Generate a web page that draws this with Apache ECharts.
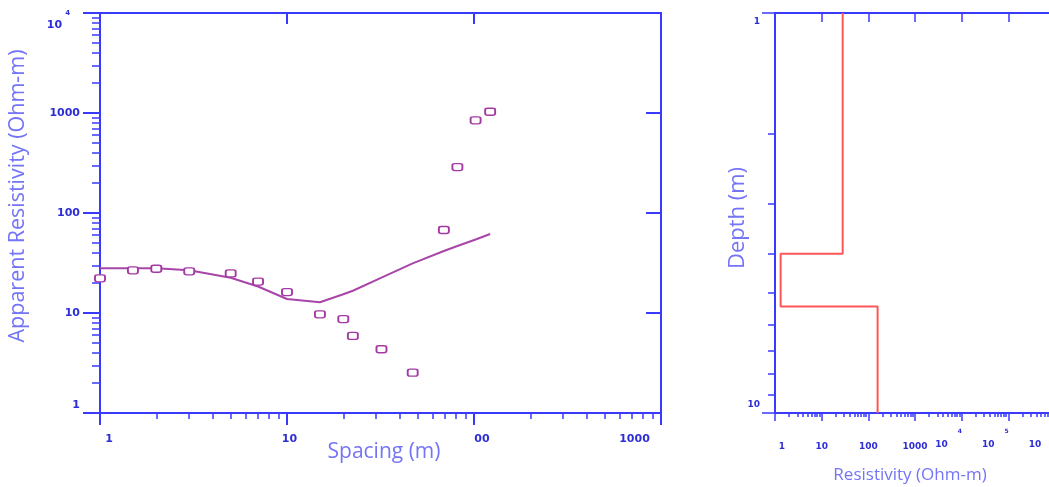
<!DOCTYPE html>
<html>
<head>
<meta charset="utf-8">
<script src="https://cdn.jsdelivr.net/npm/echarts@6/dist/echarts.min.js"></script>
<style>html,body{margin:0;padding:0;background:#fff;}#c{width:1049px;height:487px;}</style>
</head>
<body>
<div id="c"></div>
<script>
// ---- data ----
const spacing      = [1, 1.5, 2, 3, 5, 7, 10, 15, 20, 22.5, 32, 47, 69, 81.5, 102, 122];
const apparentRes  = [22.2, 26.7, 27.7, 26.1, 24.9, 20.6, 16.2, 9.7, 8.7, 5.9, 4.34, 2.53, 67.6, 288, 845, 1030];
const modelRes     = [28.1, 28.1, 28.0, 26.8, 22.5, 18.4, 13.8, 12.8, 15.4, 16.7, 22.6, 31.3, 41.7, 46.8, 54.3, 61.7];
const layerRes     = [28.2, 1.32, 158];
const layerBottom  = [4.0, 5.42];
const depthRange   = [1, 10];
const xTicksL  = [1, 10, 100, 1000];
const xLabelsL = ['1', '10', '00', '1000'];
const yTicksL  = [1, 10, 100, 1000, 10000];
const yLabelsL = ['1', '10', '100', '1000', '10|4'];
const xTicksR  = [1, 10, 100, 1000, 10000, 100000, 1000000];
const xLabelsR = ['1', '10', '100', '1000', '10|4', '10|5', '10|6'];
const yTicksR  = [1, 10];
const yLabelsR = ['1', '10'];

// ---- helpers ----
const lg = Math.log10;
const AX = '#3a3aff', LBL = '#2e2ed6', TTL = '#7474f6';
function minors(a, b) { const o = []; for (let d = a; d < b; d *= 10) for (let k = 2; k <= 9; k++) o.push(lg(k * d)); return o; }
function idxOf(ticks, v) { for (let i = 0; i < ticks.length; i++) if (Math.abs(lg(ticks[i]) - v) < 1e-6) return i; return -1; }
function st(size, pad, extra) { return Object.assign({ fontFamily: 'DejaVu Sans', fontWeight: 'bold', fontSize: size, color: LBL, padding: pad }, extra || {}); }

const scatterData = spacing.map((x, i) => [lg(x), lg(apparentRes[i])]);
const modelData = spacing.map((x, i) => [lg(x), lg(modelRes[i])]);
const stepData = [[lg(layerRes[0]), lg(depthRange[0])]];
layerBottom.forEach((d, i) => { stepData.push([lg(layerRes[i]), lg(d)]); stepData.push([lg(layerRes[i + 1]), lg(d)]); });
stepData.push([lg(layerRes[layerRes.length - 1]), lg(depthRange[1])]);

const line = { show: true, onZero: false, lineStyle: { color: AX, width: 2 } };
const noLine = { show: false, onZero: false };
const noSplit = { show: false };

const chart = echarts.init(document.getElementById('c'), null, { renderer: 'canvas' });
chart.setOption({
  animation: false,
  backgroundColor: '#fff',
  grid: [
    { left: 100, top: 13, width: 561, height: 400, outerBoundsMode: 'none', containLabel: false },
    { left: 775, top: 13, width: 280, height: 400, outerBoundsMode: 'none', containLabel: false }
  ],
  xAxis: [
    { // 0 left bottom main
      type: 'value', gridIndex: 0, position: 'bottom', min: 0, max: 3,
      axisLine: line, splitLine: noSplit,
      axisTick: { show: true, length: 12, lineStyle: { color: AX, width: 2 }, customValues: xTicksL.map(lg) },
      axisLabel: {
        margin: 21, customValues: xTicksL.map(lg),
        formatter: v => { const i = idxOf(xTicksL, v); return '{s' + i + '|' + xLabelsL[i] + '}'; },
        rich: { s0: st(11, [0, 0, 0, 18]), s1: st(11, [0, 0, 0, 5]), s2: st(11, [0, 0, 0, 16]), s3: st(11, [0, 53, 0, 0]) }
      }
    },
    { // 1 left bottom minor
      type: 'value', gridIndex: 0, position: 'bottom', min: 0, max: 3,
      axisLine: noLine, splitLine: noSplit, axisLabel: { show: false },
      axisTick: { show: true, length: 6, lineStyle: { color: AX, width: 1.5 }, customValues: minors(1, 1000) }
    },
    { // 2 left top
      type: 'value', gridIndex: 0, position: 'top', min: 0, max: 3,
      axisLine: line, splitLine: noSplit, axisLabel: { show: false },
      axisTick: { show: true, inside: true, length: 11, lineStyle: { color: AX, width: 2 }, customValues: [lg(10), lg(100)] }
    },
    { // 3 right bottom main
      type: 'value', gridIndex: 1, position: 'bottom', min: 0, max: 6,
      axisLine: line, splitLine: noSplit,
      axisTick: { show: true, length: 8, lineStyle: { color: AX, width: 1.5 }, customValues: xTicksR.map(lg) },
      axisLabel: {
        margin: 15, customValues: xTicksR.map(lg),
        formatter: v => {
          const i = idxOf(xTicksR, v); const t = xLabelsR[i];
          if (t.indexOf('|') >= 0) { const p = t.split('|'); return '{p|' + p[0] + '}{sup|' + p[1] + '}'; }
          return (i === 0 ? '{f|' : '{n|') + t + '}';
        },
        rich: {
          n: st(9, [14, 0, 0, 0], { verticalAlign: 'top' }),
          f: st(9, [14, 0, 0, 14], { verticalAlign: 'top' }),
          p: st(9, [12, 0, 0, 0], { verticalAlign: 'top' }),
          sup: st(6, [0, 26, 0, 10], { verticalAlign: 'top' })
        }
      }
    },
    { // 4 right bottom minor
      type: 'value', gridIndex: 1, position: 'bottom', min: 0, max: 6,
      axisLine: noLine, splitLine: noSplit, axisLabel: { show: false },
      axisTick: { show: true, length: 4, lineStyle: { color: AX, width: 1.5 }, customValues: minors(1, 1000000) }
    },
    { // 5 right top
      type: 'value', gridIndex: 1, position: 'top', min: 0, max: 6,
      axisLine: line, splitLine: noSplit, axisLabel: { show: false },
      axisTick: { show: true, inside: true, length: 9, lineStyle: { color: AX, width: 1.5 }, customValues: [1, 2, 3, 4, 5, 6] }
    }
  ],
  yAxis: [
    { // 0 left main
      type: 'value', gridIndex: 0, position: 'left', min: 0, max: 4,
      axisLine: line, splitLine: noSplit,
      axisTick: { show: true, length: 17, lineStyle: { color: AX, width: 2 }, customValues: yTicksL.map(lg) },
      axisLabel: {
        margin: 20, customValues: yTicksL.map(lg),
        formatter: v => {
          const i = idxOf(yTicksL, v); const t = yLabelsL[i];
          if (t.indexOf('|') >= 0) { const p = t.split('|'); return '{p|' + p[0] + '}{sup|' + p[1] + '}'; }
          return (i === 0 ? '{lo|' : '{n|') + t + '}';
        },
        rich: {
          n: st(11, [0, 0, 0, 0]),
          lo: st(11, [0, 0, 16, 0]),
          p: st(11, [24, 0, 0, 0]),
          sup: st(7, [0, 10, 0, 3], { verticalAlign: 'middle' })
        }
      }
    },
    { // 1 left minor
      type: 'value', gridIndex: 0, position: 'left', min: 0, max: 4,
      axisLine: noLine, splitLine: noSplit, axisLabel: { show: false },
      axisTick: { show: true, length: 8, lineStyle: { color: AX, width: 1.5 }, customValues: minors(1, 10000) }
    },
    { // 2 left right side
      type: 'value', gridIndex: 0, position: 'right', min: 0, max: 4,
      axisLine: line, splitLine: noSplit, axisLabel: { show: false },
      axisTick: { show: true, inside: true, length: 15, lineStyle: { color: AX, width: 2 }, customValues: [1, 2, 3] }
    },
    { // 3 right depth main
      type: 'value', gridIndex: 1, position: 'left', min: 0, max: 1, inverse: true,
      axisLine: line, splitLine: noSplit,
      axisTick: { show: true, length: 13, lineStyle: { color: AX, width: 1.5 }, customValues: yTicksR.map(lg) },
      axisLabel: {
        margin: 15, customValues: yTicksR.map(lg),
        formatter: v => { const i = idxOf(yTicksR, v); return (i === 0 ? '{t|' : '{b|') + yLabelsR[i] + '}'; },
        rich: { t: st(9, [18, 0, 0, 0]), b: st(9, [0, 0, 16, 0]) }
      }
    },
    { // 4 right depth minor
      type: 'value', gridIndex: 1, position: 'left', min: 0, max: 1, inverse: true,
      axisLine: noLine, splitLine: noSplit, axisLabel: { show: false },
      axisTick: { show: true, length: 7, lineStyle: { color: AX, width: 1.5 }, customValues: minors(1, 10) }
    }
  ],
  series: [
    {
      type: 'line', xAxisIndex: 0, yAxisIndex: 0, data: modelData, showSymbol: false, symbol: 'none',
      lineStyle: { color: '#a845a8', width: 2 }, z: 2, silent: true
    },
    {
      type: 'scatter', xAxisIndex: 0, yAxisIndex: 0, data: scatterData, symbol: 'roundRect', symbolSize: [10, 7],
      itemStyle: { color: '#ffffff', borderColor: '#a33aa3', borderWidth: 1.6, opacity: 1 }, z: 3, silent: true
    },
    {
      type: 'line', xAxisIndex: 3, yAxisIndex: 3, data: stepData, showSymbol: false, symbol: 'none',
      lineStyle: { color: '#ff5757', width: 2 }, z: 2, silent: true
    }
  ],
  graphic: [
    { type: 'text', x: 18, y: 196, rotation: Math.PI / 2, silent: true,
      style: { text: 'Apparent Resistivity (Ohm-m)', fill: TTL, font: '21.5px "Open Sans"', textAlign: 'center', textVerticalAlign: 'middle' } },
    { type: 'text', x: 384, y: 452, silent: true,
      style: { text: 'Spacing (m)', fill: TTL, font: '21px "Open Sans"', textAlign: 'center', textVerticalAlign: 'middle' } },
    { type: 'text', x: 738, y: 218, rotation: Math.PI / 2, silent: true,
      style: { text: 'Depth (m)', fill: TTL, font: '22px "Open Sans"', textAlign: 'center', textVerticalAlign: 'middle' } },
    { type: 'text', x: 910, y: 475, silent: true,
      style: { text: 'Resistivity (Ohm-m)', fill: TTL, font: '17px "Open Sans"', textAlign: 'center', textVerticalAlign: 'middle' } }
  ]
});
</script>
</body>
</html>
